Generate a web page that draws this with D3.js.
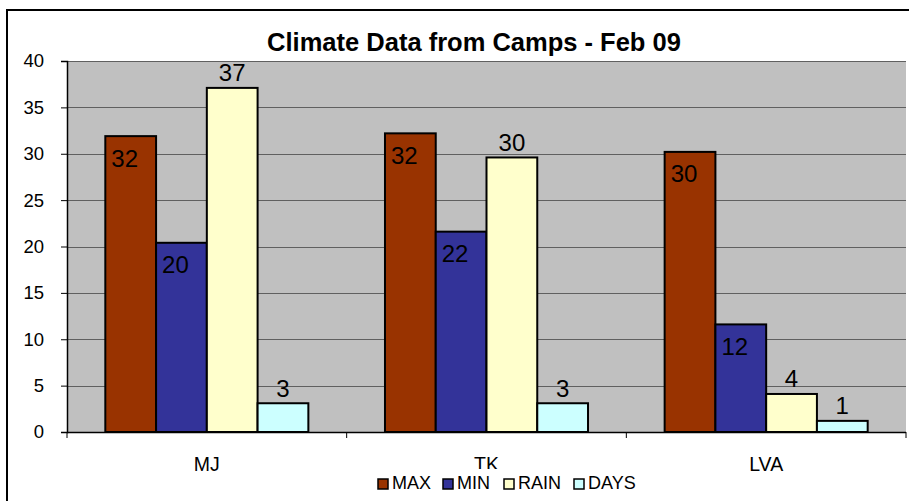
<!DOCTYPE html>
<html>
<head>
<meta charset="utf-8">
<script src="https://cdn.jsdelivr.net/npm/d3@7"></script>
<style>
  body { margin: 0; background: #fff; }
  svg { display: block; font-family: Arial, "Liberation Sans", sans-serif; }
</style>
</head>
<body>
<div id="chart"></div>
<script>
const categories = ['MJ', 'TK', 'LVA'];
const seriesNames = ['MAX', 'MIN', 'RAIN', 'DAYS'];
const maxValues = [31.9, 32.2, 30.2];
const minValues = [20.4, 21.6, 11.6];
const rainValues = [37.1, 29.6, 4.1];
const daysValues = [3.1, 3.1, 1.2];
const yTicks = [0, 5, 10, 15, 20, 25, 30, 35, 40];

const seriesColours = ['#993300', '#333399', '#FFFFCC', '#CCFFFF'];
// dark bars show their label inside the top, light bars above it
const labelInside = [true, true, false, false];

const seriesValues = [maxValues, minValues, rainValues, daysValues];

const width = 909;
const height = 501;
const plot = { left: 67, right: 906, top: 61, bottom: 432 };

const svg = d3.select('#chart')
  .append('svg')
  .attr('width', width)
  .attr('height', height);

// Outer chart border.
svg.append('rect')
  .attr('x', 7)
  .attr('y', 10)
  .attr('width', width + 10)
  .attr('height', height + 10)
  .attr('fill', '#fff')
  .attr('stroke', '#000')
  .attr('stroke-width', 2);

const x = d3.scaleBand()
  .domain(categories)
  .range([plot.left, plot.right])
  .paddingInner(0.274)
  .paddingOuter(0.137);

const xSeries = d3.scaleBand()
  .domain(seriesNames)
  .range([0, x.bandwidth()]);

const y = d3.scaleLinear()
  .domain([0, 40])
  .range([plot.bottom, plot.top]);

// Plot background.
svg.append('rect')
  .attr('x', plot.left)
  .attr('y', plot.top)
  .attr('width', plot.right - plot.left)
  .attr('height', plot.bottom - plot.top)
  .attr('fill', '#C0C0C0');

// Gridlines.
svg.append('g')
  .selectAll('line')
  .data(yTicks.filter(d => d > 0))
  .join('line')
  .attr('x1', plot.left)
  .attr('x2', plot.right)
  .attr('y1', d => Math.round(y(d)) + 0.5)
  .attr('y2', d => Math.round(y(d)) + 0.5)
  .attr('stroke', '#606060')
  .attr('stroke-width', 1);

// Bars.
const rows = categories.map((c, i) => ({
  category: c,
  values: seriesNames.map((s, j) => ({ series: s, index: j, value: seriesValues[j][i] }))
}));

const group = svg.append('g')
  .selectAll('g')
  .data(rows)
  .join('g')
  .attr('transform', d => `translate(${x(d.category)},0)`);

group.selectAll('rect')
  .data(d => d.values)
  .join('rect')
  .attr('x', d => xSeries(d.series))
  .attr('y', d => y(d.value))
  .attr('width', xSeries.bandwidth())
  .attr('height', d => y(0) - y(d.value))
  .attr('fill', d => seriesColours[d.index])
  .attr('stroke', '#000')
  .attr('stroke-width', 2);

group.selectAll('text')
  .data(d => d.values)
  .join('text')
  .attr('x', d => xSeries(d.series) + xSeries.bandwidth() / 2 - (labelInside[d.index] ? 6 : 0))
  .attr('y', d => labelInside[d.index] ? y(d.value) + 22 : y(d.value) - 15)
  .attr('dy', '0.35em')
  .attr('text-anchor', 'middle')
  .style('font-size', '24px')
  .attr('fill', '#000')
  .text(d => Math.round(d.value));

// Y axis.
const yAxis = svg.append('g')
  .attr('transform', `translate(${plot.left},0)`)
  .call(d3.axisLeft(y).tickValues(yTicks).tickSize(6).tickPadding(17));
yAxis.select('.domain').attr('stroke', '#000').attr('stroke-width', 1.5);
yAxis.selectAll('.tick line').attr('stroke', '#000');
yAxis.selectAll('text').style('font-size', '18.5px').attr('fill', '#000');

// X axis line with ticks at category boundaries.
svg.append('line')
  .attr('x1', plot.left)
  .attr('x2', plot.right)
  .attr('y1', plot.bottom + 0.5)
  .attr('y2', plot.bottom + 0.5)
  .attr('stroke', '#000')
  .attr('stroke-width', 1.5);

const step = x.step();
svg.append('g')
  .selectAll('line')
  .data(d3.range(categories.length + 1))
  .join('line')
  .attr('x1', i => plot.left + i * step)
  .attr('x2', i => plot.left + i * step)
  .attr('y1', plot.bottom)
  .attr('y2', plot.bottom + 6)
  .attr('stroke', '#000');

svg.append('g')
  .selectAll('text')
  .data(categories)
  .join('text')
  .attr('x', d => x(d) + x.bandwidth() / 2)
  .attr('y', 471)
  .attr('text-anchor', 'middle')
  .style('font-size', '19.5px')
  .attr('fill', '#000')
  .text(d => d);

// Title.
svg.append('text')
  .attr('x', 474)
  .attr('y', 51)
  .attr('text-anchor', 'middle')
  .style('font-size', '25.5px')
  .style('font-weight', 'bold')
  .text('Climate Data from Camps - Feb 09');

// Legend box (white, it hides the bottom of the middle category label).
svg.append('rect')
  .attr('x', 372)
  .attr('y', 469)
  .attr('width', 275)
  .attr('height', 40)
  .attr('fill', '#fff');

const legendX = [378, 443, 504, 574];
const legend = svg.append('g')
  .selectAll('g')
  .data(seriesNames)
  .join('g')
  .attr('transform', (d, i) => `translate(${legendX[i]},479)`);

legend.append('rect')
  .attr('width', 10)
  .attr('height', 10)
  .attr('fill', (d, i) => seriesColours[i])
  .attr('stroke', '#000')
  .attr('stroke-width', 1.5);

legend.append('text')
  .attr('x', 14)
  .attr('y', 10)
  .style('font-size', '18px')
  .attr('fill', '#000')
  .text(d => d);
</script>
</body>
</html>
